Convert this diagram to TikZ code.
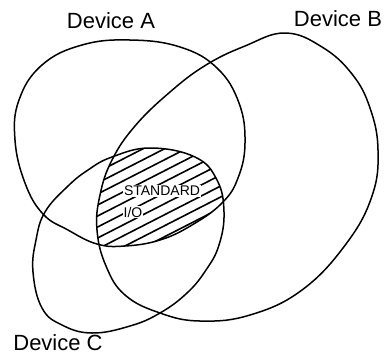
\documentclass[tikz,border=0pt]{standalone}
\usepackage{fontspec}
\setmainfont{Liberation Sans}
\usepackage{tikz}

\tikzset{
    setline/.style={line width=1.5pt, line join=round},
    hatch/.style={line width=1.6pt, line cap=round},
    setlabel/.style={font=\fontsize{22}{26}\selectfont},
    stdlabel/.style={font=\fontsize{14}{16}\selectfont, fill=white, inner sep=1pt}
}

\def\curveA{plot[smooth cycle, tension=0.7] coordinates {(130,40) (180,47) (217,68) (239,103) (245,143) (238,178) (222,203) (192,225) (160,240) (125,246) (97,244) (68,230) (43,214) (25,183) (15,140) (19,100) (42,65) (82,45)}}
\def\curveB{plot[smooth cycle, tension=0.7] coordinates {(285,33) (322,47) (352,74) (370,108) (378,150) (372,196) (346,244) (302,290) (250,315) (200,321) (160,313) (125,295) (106,266) (97,230) (100,195) (112,160) (135,126) (170,92) (206,65) (245,46)}}
\def\curveC{plot[smooth cycle, tension=0.7] coordinates {(150,148) (195,157) (217,180) (224,212) (219,245) (206,270) (187,293) (160,313) (130,326) (92,333) (62,325) (42,308) (33,272) (36,240) (45,212) (67,187) (88,170) (112,157)}}

\begin{document}
\begin{tikzpicture}[x=1pt, y=-1pt]
    \useasboundingbox (0,0) rectangle (390,357);

    \begin{scope}
        \clip \curveA;
        \clip \curveB;
        \clip \curveC;
        \foreach \c in {170,181,...,295}
            \draw[hatch] (80,\c) -- (250,\c-87);
    \end{scope}

    \draw[setline] \curveA;
    \draw[setline] \curveB;
    \draw[setline] \curveC;

    \node[stdlabel] (std) at (162,191) {STANDARD};
    \node[stdlabel] (io) at (133,212) {I/O};

    \node[setlabel] (devA) at (111,21) {Device A};
    \node[setlabel] (devB) at (338,19) {Device B};
    \node[setlabel] (devC) at (58,343) {Device C};
\end{tikzpicture}
\end{document}
